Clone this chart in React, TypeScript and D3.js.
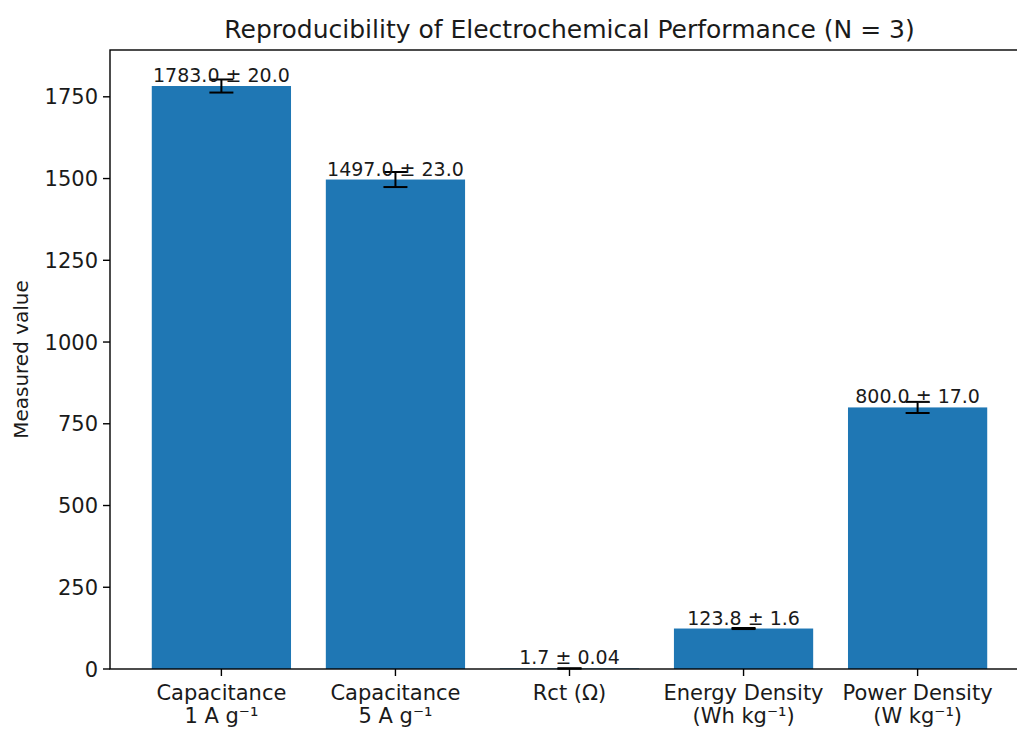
import React, { useEffect, useRef } from "react";
import * as d3 from "d3";

const categories = [
  ["Capacitance", "1 A g⁻¹"],
  ["Capacitance", "5 A g⁻¹"],
  ["Rct (Ω)"],
  ["Energy Density", "(Wh kg⁻¹)"],
  ["Power Density", "(W kg⁻¹)"],
];
const means = [1783.0, 1497.0, 1.7, 123.8, 800.0];
const errors = [20.0, 23.0, 0.04, 1.6, 17.0];
const labels = ["1783.0 ± 20.0", "1497.0 ± 23.0", "1.7 ± 0.04", "123.8 ± 1.6", "800.0 ± 17.0"];
const yTicks = [0, 250, 500, 750, 1000, 1250, 1500, 1750];

const W = 1017;
const H = 729;
const left = 110;
const right = 1029; // axes run past the picture's right edge
const top = 50;
const bottom = 669;
const font = "DejaVu Sans, sans-serif";

export default function App() {
  const ref = useRef<SVGSVGElement>(null);

  useEffect(() => {
    const svg = d3.select(ref.current);
    svg.selectAll("*").remove();

    const n = means.length;
    const x = d3.scaleLinear().domain([-0.64, n - 1 + 0.64]).range([left, right]);
    const yMax = d3.max(means.map((m, i) => m + errors[i])) as number;
    const y = d3.scaleLinear().domain([0, yMax * 1.05]).range([bottom, top]);
    const bw = x(0.4) - x(-0.4);

    // bars
    svg.append("g")
      .selectAll("rect")
      .data(means)
      .enter()
      .append("rect")
      .attr("x", (_d, i) => x(i) - bw / 2)
      .attr("y", (d) => y(d))
      .attr("width", bw)
      .attr("height", (d) => y(0) - y(d))
      .attr("fill", "#1f77b4");

    // error bars
    const eg = svg.append("g").attr("stroke", "#000").attr("stroke-width", 2);
    means.forEach((m, i) => {
      const cx = x(i);
      const lo = y(m - errors[i]);
      const hi = y(m + errors[i]);
      eg.append("line").attr("x1", cx).attr("x2", cx).attr("y1", lo).attr("y2", hi);
      eg.append("line").attr("x1", cx - 12).attr("x2", cx + 12).attr("y1", lo).attr("y2", lo);
      eg.append("line").attr("x1", cx - 12).attr("x2", cx + 12).attr("y1", hi).attr("y2", hi);
    });

    // value labels
    svg.append("g")
      .selectAll("text")
      .data(labels)
      .enter()
      .append("text")
      .attr("x", (_d, i) => x(i))
      .attr("y", (_d, i) => y(means[i]) - 4)
      .attr("text-anchor", "middle")
      .attr("font-family", font)
      .attr("font-size", 19)
      .attr("fill", "#1a1a1a")
      .text((d) => d);

    // y axis
    const ya = svg.append("g").attr("font-family", font).attr("font-size", 21).attr("fill", "#1a1a1a");
    yTicks.forEach((t) => {
      ya.append("line")
        .attr("x1", left - 7).attr("x2", left)
        .attr("y1", y(t)).attr("y2", y(t))
        .attr("stroke", "#000").attr("stroke-width", 1.4);
      ya.append("text")
        .attr("x", left - 12).attr("y", y(t))
        .attr("dy", "0.36em")
        .attr("text-anchor", "end")
        .text(t);
    });

    // x axis
    const xa = svg.append("g").attr("font-family", font).attr("font-size", 21).attr("fill", "#1a1a1a");
    categories.forEach((c, i) => {
      xa.append("line")
        .attr("x1", x(i)).attr("x2", x(i))
        .attr("y1", bottom).attr("y2", bottom + 7)
        .attr("stroke", "#000").attr("stroke-width", 1.4);
      c.forEach((line, j) => {
        xa.append("text")
          .attr("x", x(i)).attr("y", bottom + 31 + j * 23)
          .attr("text-anchor", "middle")
          .text(line);
      });
    });

    // frame
    svg.append("rect")
      .attr("x", left).attr("y", top)
      .attr("width", right - left).attr("height", bottom - top)
      .attr("fill", "none").attr("stroke", "#000").attr("stroke-width", 1.4);

    svg.append("text")
      .attr("transform", `translate(28, ${(top + bottom) / 2}) rotate(-90)`)
      .attr("text-anchor", "middle")
      .attr("font-family", font)
      .attr("font-size", 20)
      .attr("fill", "#1a1a1a")
      .text("Measured value");

    svg.append("text")
      .attr("x", (left + right) / 2).attr("y", 38)
      .attr("text-anchor", "middle")
      .attr("font-family", font)
      .attr("font-size", 25)
      .attr("fill", "#1a1a1a")
      .text("Reproducibility of Electrochemical Performance (N = 3)");
  }, []);

  return (
    <svg
      ref={ref}
      width={W}
      height={H}
      style={{ position: "absolute", left: 0, top: 0, background: "#fff" }}
    />
  );
}
